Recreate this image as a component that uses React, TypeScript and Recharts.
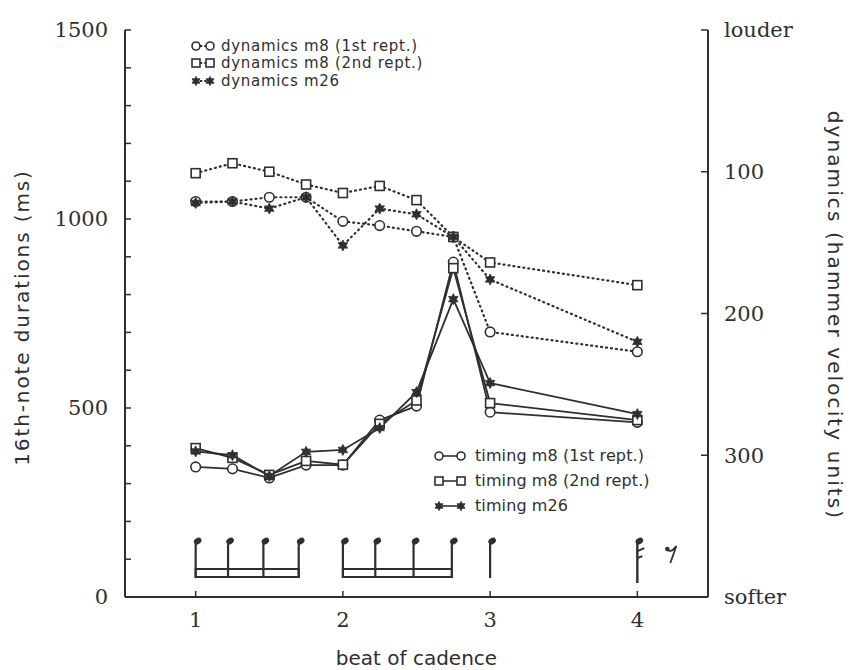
import React from "react";
import { ComposedChart, Line, Scatter, XAxis, YAxis, ReferenceArea } from "recharts";

const INK = "#2f2f2f";
const SANS = "'DejaVu Sans', sans-serif";
const SERIF = "'DejaVu Serif', serif";

const beats = [1, 1.25, 1.5, 1.75, 2, 2.25, 2.5, 2.75, 3, 4];

// timing, left axis (ms)
const timingM8First = [344, 339, 315, 349, 349, 468, 505, 886, 489, 462];
const timingM8Second = [394, 368, 323, 360, 350, 458, 520, 870, 513, 468];
const timingM26 = [385, 375, 320, 384, 389, 447, 542, 788, 566, 484];

// dynamics, right axis (hammer velocity units, louder at top)
const dynM8First = [121, 121, 118, 118, 135, 138, 142, 146, 213, 227];
const dynM8Second = [101, 94, 100, 109, 115, 110, 120, 146, 164, 180];
const dynM26 = [122, 121, 126, 118, 152, 126, 130, 146, 176, 220];

const beatTicks = [1, 2, 3, 4];
const msTicks = [0, 100, 200, 300, 400, 500, 600, 700, 800, 900, 1000, 1100, 1200, 1300, 1400, 1500];
const dynTicks = [0, 100, 200, 300, 400];
const dynTickNames: Record<number, string> = { 0: "louder", 400: "softer" };

// music notation under the curves
const noteBeats = [1, 1.22, 1.46, 1.7, 2, 2.22, 2.48, 2.74, 3, 4];
const noteKinds = ["s", "s", "s", "s", "s", "s", "s", "s", "q", "e"];
const beamGroups = [
  [1, 1.7],
  [2, 2.74],
];
const NOTE_HEAD_MS = 148;
const BEAM_MS = [53, 74];

const rows = beats.map((beat, i) => ({
  beat,
  tA: timingM8First[i],
  tB: timingM8Second[i],
  tC: timingM26[i],
  dA: dynM8First[i],
  dB: dynM8Second[i],
  dC: dynM26[i],
}));

const notes = noteBeats.map((beat, i) => ({ beat, head: NOTE_HEAD_MS, kind: noteKinds[i] }));

const starPoints = (cx: number, cy: number, ro: number, ri: number) => {
  const pts: string[] = [];
  for (let k = 0; k < 12; k++) {
    const r = k % 2 === 0 ? ro : ri;
    const a = (Math.PI / 6) * k - Math.PI / 2;
    pts.push(`${cx + r * Math.cos(a)},${cy + r * Math.sin(a)}`);
  }
  return pts.join(" ");
};

const CircleMark = ({ cx, cy, r = 4.8 }: any) => (
  <circle cx={cx} cy={cy} r={r} fill="#fff" stroke={INK} strokeWidth={1.6} />
);
const SquareMark = ({ cx, cy, s = 9 }: any) => (
  <rect x={cx - s / 2} y={cy - s / 2} width={s} height={s} fill="#fff" stroke={INK} strokeWidth={1.6} />
);
const StarMark = ({ cx, cy, ro = 5.5 }: any) => (
  <polygon points={starPoints(cx, cy, ro, ro * 0.55)} fill={INK} stroke={INK} strokeWidth={0.8} />
);

const NoteMark = (p: any) => {
  const { cx, cy, payload } = p;
  const head = (
    <ellipse cx={cx + 2} cy={cy} rx={4} ry={3} transform={`rotate(-30 ${cx + 2} ${cy})`} fill={INK} />
  );
  if (payload.kind === "e") {
    return (
      <g>
        {head}
        <line x1={cx} y1={cy} x2={cx} y2={cy + 42} stroke={INK} strokeWidth={2.4} />
        <path d={`M${cx} ${cy + 10} L${cx + 7} ${cy + 7} M${cx} ${cy + 17} L${cx + 5} ${cy + 15}`} stroke={INK} strokeWidth={2} fill="none" />
        <circle cx={cx + 30} cy={cy + 8} r={2.3} fill={INK} />
        <path d={`M${cx + 30} ${cy + 9} Q${cx + 34} ${cy + 12} ${cx + 39} ${cy + 5} L${cx + 33} ${cy + 22}`} fill="none" stroke={INK} strokeWidth={1.8} />
      </g>
    );
  }
  return (
    <g>
      {head}
      <line x1={cx} y1={cy + 1} x2={cx} y2={cy + 37} stroke={INK} strokeWidth={2.2} />
    </g>
  );
};

const LeftLabel = ({ viewBox }: any) => {
  const x = viewBox.x + 22;
  const y = viewBox.y + viewBox.height / 2 + 4;
  return (
    <text x={x} y={y} transform={`rotate(-90 ${x} ${y})`} textAnchor="middle" dominantBaseline="central"
      fontFamily={SANS} fontSize={20} letterSpacing={1.9} fill={INK}>
      16th-note durations (ms)
    </text>
  );
};

const RightLabel = ({ viewBox }: any) => {
  const x = viewBox.x + 127;
  const y = viewBox.y + viewBox.height / 2 + 2;
  return (
    <text x={x} y={y} transform={`rotate(90 ${x} ${y})`} textAnchor="middle" dominantBaseline="central"
      fontFamily={SANS} fontSize={20} letterSpacing={2.1} fill={INK}>
      dynamics (hammer velocity units)
    </text>
  );
};

const BottomLabel = ({ viewBox }: any) => (
  <text x={viewBox.x + viewBox.width / 2} y={viewBox.y + 68} textAnchor="middle"
    fontFamily={SANS} fontSize={20} fill={INK}>
    beat of cadence
  </text>
);

const legendMarks: Record<string, (cx: number, cy: number) => React.ReactNode> = {
  circle: (cx, cy) => <CircleMark cx={cx} cy={cy} r={4} />,
  square: (cx, cy) => <SquareMark cx={cx} cy={cy} s={8} />,
  star: (cx, cy) => <StarMark cx={cx} cy={cy} ro={4.6} />,
};

const dynLegend = [
  { mark: "circle", label: "dynamics m8 (1st rept.)" },
  { mark: "square", label: "dynamics m8 (2nd rept.)" },
  { mark: "star", label: "dynamics m26" },
];
const timingLegend = [
  { mark: "circle", label: "timing m8 (1st rept.)" },
  { mark: "square", label: "timing m8 (2nd rept.)" },
  { mark: "star", label: "timing m26" },
];

const LegendRow = ({ mark, label, dotted, w, a, b, h, fontSize, spacing, gap }: any) => (
  <div style={{ display: "flex", alignItems: "center", height: h }}>
    <svg width={w} height={14} style={{ display: "block" }}>
      <line x1={a} y1={7} x2={b} y2={7} stroke={INK} strokeWidth={dotted ? 2 : 1.6}
        strokeDasharray={dotted ? "1 3.5" : undefined} strokeLinecap={dotted ? "round" : "butt"} />
      {legendMarks[mark](a, 7)}
      {legendMarks[mark](b, 7)}
    </svg>
    <span style={{ fontFamily: SANS, fontSize, letterSpacing: spacing, color: INK, whiteSpace: "nowrap", marginLeft: gap }}>{label}</span>
  </div>
);

const dotFn = (Mark: any, id: string) => (p: any) =>
  p.cx == null ? <g key={`${id}-${p.index}`} /> : <Mark key={`${id}-${p.index}`} cx={p.cx} cy={p.cy} />;

export default function App() {
  return (
    <div style={{ position: "relative", width: 853, height: 670, background: "#fff", overflow: "hidden" }}>
      <style>{`body{margin:0}`}</style>
      <ComposedChart width={853} height={670} data={rows} margin={{ top: 30, right: 0, bottom: 0, left: 0 }}>
        <XAxis
          dataKey="beat"
          type="number"
          domain={[0.52, 4.48]}
          ticks={beatTicks}
          allowDataOverflow
          height={73}
          axisLine={{ stroke: INK, strokeWidth: 2 }}
          tickLine={{ stroke: INK, strokeWidth: 1.5 }}
          tickSize={-6}
          tickMargin={21}
          tick={{ fill: INK, fontFamily: SERIF, fontSize: 21 }}
          label={<BottomLabel />}
        />
        <YAxis
          yAxisId="left"
          orientation="left"
          domain={[0, 1500]}
          ticks={msTicks}
          interval={0}
          width={125}
          axisLine={{ stroke: INK, strokeWidth: 2 }}
          tickLine={{ stroke: INK, strokeWidth: 1.5 }}
          tickSize={-6}
          tickMargin={23}
          tickFormatter={(v: number) => (v % 500 === 0 ? String(v) : "")}
          tick={{ fill: INK, fontFamily: SERIF, fontSize: 21 }}
          label={<LeftLabel />}
        />
        <YAxis
          yAxisId="right"
          orientation="right"
          domain={[0, 400]}
          reversed
          ticks={dynTicks}
          interval={0}
          width={145}
          axisLine={{ stroke: INK, strokeWidth: 2 }}
          tickLine={{ stroke: INK, strokeWidth: 1.5 }}
          tickSize={-7}
          tickMargin={23}
          tickFormatter={(v: number) => dynTickNames[v] ?? String(v)}
          tick={{ fill: INK, fontFamily: SERIF, fontSize: 21 }}
          label={<RightLabel />}
        />

        {beamGroups.map(([x1, x2], i) => (
          <ReferenceArea key={`beam-${i}`} yAxisId="left" x1={x1} x2={x2} y1={BEAM_MS[0]} y2={BEAM_MS[1]}
            fill="none" stroke={INK} strokeWidth={2} ifOverflow="visible" />
        ))}
        <Scatter data={notes} dataKey="head" yAxisId="left" shape={NoteMark} isAnimationActive={false} />

        <Line type="linear" dataKey="tA" yAxisId="left" stroke={INK} strokeWidth={1.8} dot={dotFn(CircleMark, "tA")} activeDot={false} isAnimationActive={false} />
        <Line type="linear" dataKey="tB" yAxisId="left" stroke={INK} strokeWidth={1.8} dot={dotFn(SquareMark, "tB")} activeDot={false} isAnimationActive={false} />
        <Line type="linear" dataKey="tC" yAxisId="left" stroke={INK} strokeWidth={1.8} dot={dotFn(StarMark, "tC")} activeDot={false} isAnimationActive={false} />

        <Line type="linear" dataKey="dA" yAxisId="right" stroke={INK} strokeWidth={2.2} strokeDasharray="1 4" strokeLinecap="round" dot={dotFn(CircleMark, "dA")} activeDot={false} isAnimationActive={false} />
        <Line type="linear" dataKey="dB" yAxisId="right" stroke={INK} strokeWidth={2.2} strokeDasharray="1 4" strokeLinecap="round" dot={dotFn(SquareMark, "dB")} activeDot={false} isAnimationActive={false} />
        <Line type="linear" dataKey="dC" yAxisId="right" stroke={INK} strokeWidth={2.2} strokeDasharray="1 4" strokeLinecap="round" dot={dotFn(StarMark, "dC")} activeDot={false} isAnimationActive={false} />
      </ComposedChart>

      <div style={{ position: "absolute", left: 191, top: 37 }}>
        {dynLegend.map((r) => (
          <LegendRow key={r.label} {...r} dotted w={24} a={5} b={19} h={17.5} fontSize={15} spacing={0.7} gap={6} />
        ))}
      </div>
      <div style={{ position: "absolute", left: 433, top: 443 }}>
        {timingLegend.map((r) => (
          <LegendRow key={r.label} {...r} w={38} a={6} b={28} h={25} fontSize={16} spacing={0.1} gap={4} />
        ))}
      </div>
    </div>
  );
}
